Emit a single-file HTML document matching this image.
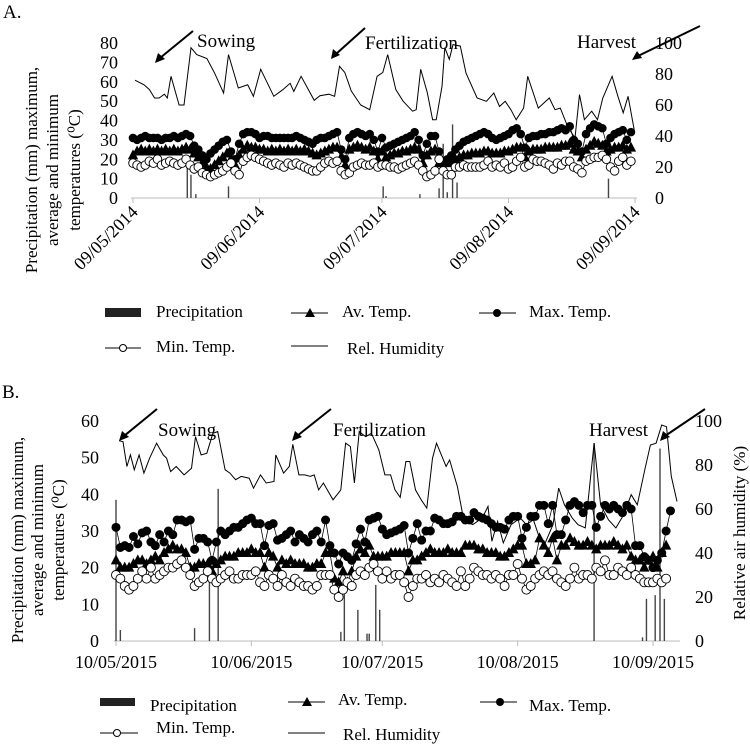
<!DOCTYPE html>
<html><head><meta charset="utf-8"><style>
html,body{margin:0;padding:0;background:#fff}
svg{display:block;font-family:"Liberation Serif",serif}
</style></head><body>
<svg id="fig" width="750" height="744" viewBox="0 0 750 744" xmlns="http://www.w3.org/2000/svg">
<g id="chartA"></g>
<g id="chartB"></g>
<g fill="#000">
 <text x="3" y="18" font-size="19">A.</text>
 <text x="2" y="398" font-size="19">B.</text>
 <g font-size="17" text-anchor="middle">
  <text transform="translate(37,170) rotate(-90)">Precipitation (mm) maximum,</text>
  <text transform="translate(58,170) rotate(-90)">average and minimum</text>
  <text transform="translate(80,170) rotate(-90)">temperatures (⁰C)</text>
 </g>
 <g font-size="17" text-anchor="middle">
  <text transform="translate(23,540) rotate(-90)">Precipitation (mm) maximum,</text>
  <text transform="translate(43,540) rotate(-90)">average and minimum</text>
  <text transform="translate(64,540) rotate(-90)">temperatures (⁰C)</text>
 </g>
 <text font-size="17" text-anchor="middle" transform="translate(745,533) rotate(-90)">Relative air humidity (%)</text>
 <g font-size="19">
  <text x="197" y="47">Sowing</text>
  <text x="365" y="49">Fertilization</text>
  <text x="577" y="48">Harvest</text>
 </g>
 <g font-size="19">
  <text x="158" y="436">Sowing</text>
  <text x="333" y="436">Fertilization</text>
  <text x="589" y="436">Harvest</text>
 </g>
 <g stroke="#000" stroke-width="2">
  <line x1="193" y1="31" x2="160" y2="58"/><polygon points="155,63 158,53 165,59" stroke="none"/>
  <line x1="365" y1="28" x2="336" y2="54"/><polygon points="331,59 333,49 340,55" stroke="none"/>
  <line x1="700" y1="26" x2="638" y2="56"/><polygon points="632,60 637,51 642,58" stroke="none"/>
  <line x1="157" y1="409" x2="124" y2="436"/><polygon points="119,441 122,431 129,437" stroke="none"/>
  <line x1="331" y1="409" x2="297" y2="436"/><polygon points="292,441 295,431 302,437" stroke="none"/>
  <line x1="705" y1="409" x2="665" y2="436"/><polygon points="660,441 663,431 670,437" stroke="none"/>
 </g>
</g>
<g font-size="17">
 <g><rect x="105" y="308" width="36" height="9" fill="#222"/><text x="156" y="317">Precipitation</text></g>
 <g><line x1="291" y1="313" x2="328" y2="313" stroke="#000"/><polygon points="310,308 315,317 305,317"/><text x="342" y="317">Av. Temp.</text></g>
 <g><line x1="479" y1="313" x2="516" y2="313" stroke="#000"/><circle cx="497" cy="313" r="4"/><text x="529" y="317">Max. Temp.</text></g>
 <g><line x1="105" y1="348" x2="141" y2="348" stroke="#000"/><circle cx="123" cy="348" r="3.5" fill="#fff" stroke="#000"/><text x="156" y="352">Min. Temp.</text></g>
 <g><line x1="291" y1="346" x2="328" y2="346" stroke="#000"/><text x="347" y="354">Rel. Humidity</text></g>
</g>
<g font-size="17">
 <g><rect x="100" y="698" width="35" height="8" fill="#222"/><text x="150" y="711">Precipitation</text></g>
 <g><line x1="288" y1="702" x2="325" y2="702" stroke="#000"/><polygon points="307,697 312,706 302,706"/><text x="338" y="705">Av. Temp.</text></g>
 <g><line x1="480" y1="702" x2="517" y2="702" stroke="#000"/><circle cx="500" cy="702" r="4"/><text x="529" y="711">Max. Temp.</text></g>
 <g><line x1="100" y1="733" x2="138" y2="733" stroke="#000"/><circle cx="117" cy="733" r="3.5" fill="#fff" stroke="#000"/><text x="156" y="733">Min. Temp.</text></g>
 <g><line x1="288" y1="733" x2="325" y2="733" stroke="#000"/><text x="343" y="740">Rel. Humidity</text></g>
</g>
</svg>
<script>
// ---------- Chart A data (2014) ----------
const aTickDays = [0, 31, 61, 92, 123];
const aTickLabels = ["09/05/2014", "09/06/2014", "09/07/2014", "09/08/2014", "09/09/2014"];
const aLeftTicks = [0, 10, 20, 30, 40, 50, 60, 70, 80];
const aRightTicks = [0, 20, 40, 60, 80, 100];
const aMax = [31,30,31,32,31,31,31,30,31,31,32,31,32,33,
 32,27,25,22,20,23,25,27,29,30,24,20,28,33,34,34,33,31,
 32,32,31,31,31,31,31,31,32,31,30,29,28,30,
 31,31,32,33,34,
 25,20,31,33,34,33,32,33,30,24,31,26,27,28,29,30,31,32,34,30,22,28,32,32,24,18,20,22,25,27,29,30,31,32,33,34,33,31,30,31,32,33,35,36,33,26,31,32,32,33,33,34,34,35,36,35,37,30,28,24,33,36,38,37,36,28,31,33,34,35,30,34];
const aAv = [22,24,25,24,25,24,25,24,25,24,25,24,25,26,
 25,23,21,18,16,15,17,19,21,23,20,17,22,25,27,26,26,25,
 25,24,25,24,25,24,25,24,25,24,25,24,23,22,23,24,25,26,26,
 21,17,25,26,27,26,25,26,24,20,24,21,22,23,23,24,24,25,26,25,18,22,24,25,18,16,
 18,19,20,21,22,22,23,23,23,24,24,23,23,23,24,24,25,26,26,21,
 24,25,25,25,26,26,26,26,27,27,28,25,24,21,25,27,29,28,27,24,25,26,26,27,25,26];
const aMin = [18,17,16,17,19,18,20,17,18,19,18,17,18,20,
 17,15,16,13,12,11,12,13,14,16,18,14,12,19,21,22,21,20,
 19,18,17,18,17,16,18,17,18,17,16,15,14,14,16,18,19,18,19,
 14,12,13,16,17,18,17,17,18,16,17,17,16,16,15,16,17,18,19,17,14,11,12,14,20,14,
 12,12,16,16,17,16,16,16,16,17,19,16,17,16,18,15,16,19,21,16,
 17,20,19,19,18,17,15,18,17,19,19,16,15,13,19,20,21,21,22,20,16,14,19,21,17,19];
const aHumDays = [0.5,2.7,4,5.3,6.4,7.7,8.4,9.3,11.3,12.5,14.2,15.6,18.1,20,22.2,23.4,25.8,28.1,29.5,31.3,34.5,36.7,38.5,39.4,41.2,44.4,45.8,48,49.4,50.6,51.9,53.5,55.8,58,59.8,61.2,62.4,64.4,66.2,68.5,69.4,70.5,72.1,73.4,74.3,75.7,76.4,77.5,78.4,80.2,81.6,84.3,86.6,88.4,89.8,91.2,92.6,93.9,95.7,96.7,99.3,102,103.4,104.7,106.5,108.3,109.4,110.6,112.4,113.8,115.1,117.4,118.8,120.1,121.3,122.8];
const aHumVals = [76,73,70,64.5,64.5,67,64.5,78.5,60,60,97,92.5,90,80.6,67.7,92.5,71,73,65.6,83,65.6,69.9,74,68.8,78.5,63,66,67,65.6,85,81,69,60,57,78.5,81,92.5,70,62.4,56,57,83,68,50.5,50.5,72,97,89.5,99,98,80.6,64.5,62.4,67.7,59,62.4,57,50.5,58,78.5,58,64.5,57,58,46,38.7,66.7,50.5,56,50.5,64.5,78.5,65.6,55,65.6,44];
const aRainDays = [13.3,14.2,15.4,23.4,61.3,62,70.3,75,76,77,78.3,79.4,116.5];
const aRainVals = [17,12,2,6,6,1,2,5,28,3,38,8,10];

// ---------- Chart B data (2015) ----------
const bTickDays = [0, 31, 61, 92, 123];
const bTickLabels = ["10/05/2015", "10/06/2015", "10/07/2015", "10/08/2015", "10/09/2015"];
const bLeftTicks = [0, 10, 20, 30, 40, 50, 60];
const bRightTicks = [0, 20, 40, 60, 80, 100];
const bMax = [31,25.5,26,25.5,28.5,26.5,29.5,30,27,26,29,27,30,29,33,33,32.5,33,25,28,
 28,27,22,27,30,29,30,31,31,32,33,33.5,32,32,26,31.5,32,27.5,28,29,
 30,27,29,28,27,29,30,27,33,26,24,21,24,23,22,26.5,30.5,27,33,33.5,
 34,30.5,29,29.5,30,30.5,31.5,24,28,32,27.5,30,30,33.5,33,32,32,32.5,34,34,
 33,33,35,34,33.5,33,32,31,31,30.5,33,34,34,28,31,34,34,37,37,32,
 37,29,29,33,37,38,37,35,37,37,31,34,37,36,37,36,35,37,36,26,
 26,23,22,20,22,24,30,35.5];
const bAv = [22,20,20,20,21,22,22,21,22,23,22,24,25,26,25,25,24,20,20,21,
 21,21,19,21,22,23,23,23,24,24,24,25,24,24,20,24,23,20,22,21,
 22,21,21,21,20,20,21,21,24,24,17,16,19,16,19,23,25,24,26,23,
 23,23,23,24,24,24,24,19,22,22,23,24,25,24,24,24,25,24,24,24,
 26,26,26,25,25,24,24,24,23,23,24,25,26,26,21,21,22,28,26,24,
 28,22,26,26,28,27,26,26,27,26,25,26,26,26,27,26,25,26,23,22,
 22,20,22,23,20,24,26];
const bMin = [18,17,15,14,15,17,19,17,20,17,18,19,20,20,21,22,20,18,15,16,
 17,19,17,16,17,18,19,17,17,18,18,18,19,16,15,18,17,15,18,16,
 15,17,16,15,15,14,15,18,18,18,14,12,14,16,15,18,19,18,20,21,
 19,17,19,17,18,18,16,12,15,17,17,18,16,17,16,18,17,16,15,19,
 15,17,20,19,18,18,17,18,17,15,18,18,21,17,14,15,17,18,19,18,
 19,17,16,15,17,20,17,18,18,17,20,19,22,18,18,20,19,18,20,18,
 17,16,16,16,17,16,17];
const bHumDays = [0.7,1.6,2.5,3.3,4.2,5.3,6.4,7.7,9.3,10.8,11.6,12.5,13.8,15.6,17.3,18.2,19.5,20.8,22.2,23.3,25,26.1,27.4,28.7,30.5,31.5,33.1,34.4,36.2,36.6,38.4,39.7,40.5,41.9,43.2,44.5,45.4,46.4,47.5,49.7,51.5,52.6,53.7,54.6,55.7,57.2,58.5,60.2,61.6,62.9,63.9,65.1,66.4,67.3,68.6,69.9,71.2,72.5,73.4,75.6,76.4,78.2,79.5,80.4,81.7,83.9,85.2,86.1,87.4,88.7,90.5,92.6,94,95.6,97,98.3,100.1,101.4,102.7,104.5,105.8,107.5,109.5,111,112.8,114.5,116.3,118,119.4,121.2,122.4,123.7,125,126.1,127.2,128.5];
const bHumVals = [91,90.6,79.3,84.6,77.8,84.6,76.3,83.1,89.9,84.6,83.1,77,79.3,75.5,78.5,92.9,84.6,85.3,94.4,95.2,77.8,76.3,73.3,74.8,74,69.5,75.5,71.8,72.5,84.6,76.3,79.3,89.4,75.5,75.5,74.8,75.5,68.7,71.8,64.2,68.7,89.9,88.4,71.8,95.2,92.9,94.4,86.9,75.5,75.5,68.7,65.3,81.6,81.6,68.7,64.2,60.4,83.1,89.9,79.3,82.3,70.2,56.6,54.4,52.9,55.9,61.2,45.3,54.4,44.6,52.9,55.9,52.9,55.1,46.8,44.6,52.9,69.5,61.9,55.9,52.9,51.4,89.9,61.9,55.1,51.4,57.4,66.5,61.9,78.5,89.1,89.9,98.2,97.4,74.8,63.4];
const bRainDays = [0,1,18,21.4,23.4,51.5,52.3,55.4,57.5,58,59.5,60.4,109.5,120.6,121.5,123.5,124.6,125.6];
const bRainVals = [38.5,3,3.5,20,41.5,2.5,14.5,8.5,2,2,15.3,8.5,54,1,11.5,12.5,52.5,11.5];

const NS = "http://www.w3.org/2000/svg";
function mk(parent, tag, attrs) {
  const el = document.createElementNS(NS, tag);
  for (const k in attrs) el.setAttribute(k, attrs[k]);
  parent.appendChild(el);
  return el;
}

function drawChart(g, o) {
  const xs = d => o.x0 + d * o.pxDay;
  const yL = v => o.y0 - v * (o.y0 - o.yTop) / o.leftMax;
  const yR = v => o.y0 - v * (o.y0 - o.yTop) / 100;

  const ax = mk(g, "line", {x1: o.x0 - 2, y1: o.y0, x2: o.xEnd, y2: o.y0, stroke: "#bbb", "stroke-width": 1});
  
  
  o.tickDays.forEach((d, i) => {
    const t = mk(g, "line", {x1: xs(d), y1: o.y0, x2: xs(d), y2: o.y0 + 5, stroke: "#bbb"});
    
    
    let lab;
    if (o.rotated) {
      lab = mk(g, "text", {x: 0, y: 0, "font-size": 18, "text-anchor": "end", transform: `translate(${xs(d) + 6},${o.y0 + 15}) rotate(-45)`});
    } else {
      lab = mk(g, "text", {x: xs(d), y: o.y0 + 27, "font-size": 18, "text-anchor": "middle"});
    }
    lab.textContent = o.tickLabels[i];
    
    
  });
  o.leftTicks.forEach(v => {
    const t = mk(g, "text", {x: o.leftLabelX, y: yL(v) + 6, "font-size": 18, "text-anchor": "end"});
    t.textContent = v;
    
    
  });
  o.rightTicks.forEach(v => {
    const t = mk(g, "text", {x: o.rightLabelX, y: yR(v) + 6, "font-size": 18});
    t.textContent = v;
    
    
  });

  o.rainDays.forEach((d, i) => {
    const b = mk(g, "rect", {x: xs(d) - 0.7, y: yL(o.rainVals[i]), width: 1.4, height: o.y0 - yL(o.rainVals[i]), fill: "#444"});
    
    
  });

  const hp = o.humDays.map((d, i) => xs(d).toFixed(1) + "," + yR(o.humVals[i]).toFixed(1)).join(" ");
  const hl = mk(g, "polyline", {points: hp, fill: "none", stroke: "#000", "stroke-width": 1});
  
  

  function series(vals, name, kind) {
    const pts = vals.map((v, i) => xs(i).toFixed(1) + "," + yL(v).toFixed(1)).join(" ");
    const l = mk(g, "polyline", {points: pts, fill: "none", stroke: "#000", "stroke-width": 0.8});
    
    
    vals.forEach((v, i) => {
      const cx = xs(i), cy = yL(v);
      let m;
      if (kind === "tri") {
        m = mk(g, "polygon", {points: `${cx},${cy - 6} ${cx + 5.2},${cy + 4} ${cx - 5.2},${cy + 4}`, fill: "#000"});
      } else if (kind === "dot") {
        m = mk(g, "circle", {cx: cx, cy: cy, r: o.r, fill: "#000"});
      } else {
        m = mk(g, "circle", {cx: cx, cy: cy, r: o.r, fill: "#fff", stroke: "#000", "stroke-width": 0.9});
      }
      
      
    });
  }
  series(o.max, "max-temp", "dot");
  series(o.av, "av-temp", "tri");
  series(o.min, "min-temp", "open");
}

drawChart(document.getElementById("chartA"), {
  x0: 133, pxDay: 502 / 123, xEnd: 637, y0: 198, yTop: 43, leftMax: 80,
  leftLabelX: 118, rightLabelX: 655, rotated: true, r: 4.3,
  tickDays: aTickDays, tickLabels: aTickLabels, leftTicks: aLeftTicks, rightTicks: aRightTicks,
  max: aMax, av: aAv, min: aMin, humDays: aHumDays, humVals: aHumVals,
  rainDays: aRainDays, rainVals: aRainVals
});
drawChart(document.getElementById("chartB"), {
  x0: 116, pxDay: 537 / 123, xEnd: 680, y0: 641, yTop: 421, leftMax: 60,
  leftLabelX: 99, rightLabelX: 695, rotated: false, r: 4.5,
  tickDays: bTickDays, tickLabels: bTickLabels, leftTicks: bLeftTicks, rightTicks: bRightTicks,
  max: bMax, av: bAv, min: bMin, humDays: bHumDays, humVals: bHumVals,
  rainDays: bRainDays, rainVals: bRainVals
});
</script>
</body></html>
